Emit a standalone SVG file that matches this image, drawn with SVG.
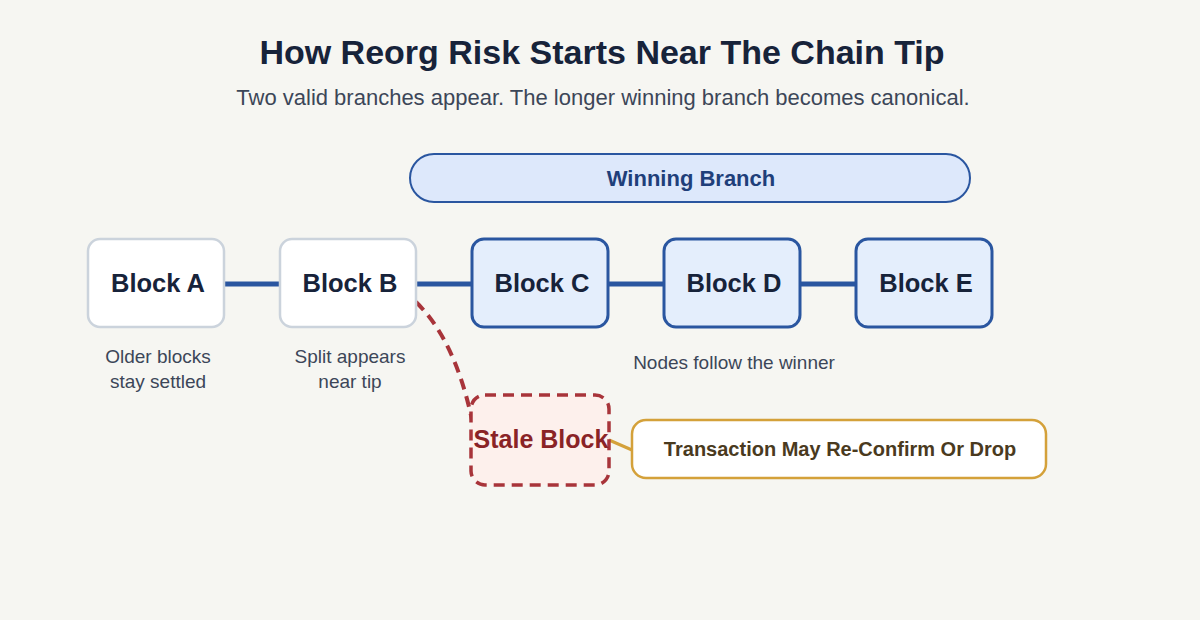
<svg xmlns="http://www.w3.org/2000/svg" width="1200" height="620" viewBox="0 0 1200 620">
<style>
text{font-family:"Liberation Sans",Arial,sans-serif}
.blk{font-size:25.5px;font-weight:bold;fill:#17233a;text-anchor:middle}
.old{fill:#fff;stroke:#cbd3dc;stroke-width:2.5}
.win{fill:#e4eefc;stroke:#2a56a0;stroke-width:3}
.cap{font-size:19px;fill:#3c4658;text-anchor:middle}
.link{stroke:#2a56a0;stroke-width:5}
</style>
<rect width="1200" height="620" fill="#f6f6f2"/>
<text x="602" y="64" text-anchor="middle" font-size="34" font-weight="bold" fill="#17233a">How Reorg Risk Starts Near The Chain Tip</text>
<text x="603" y="105" text-anchor="middle" font-size="22" fill="#3c4658">Two valid branches appear. The longer winning branch becomes canonical.</text>
<g id="banner"><rect x="410" y="154" width="560" height="48" rx="24" fill="#dde8fb" stroke="#2a56a0" stroke-width="2"/>
<text x="691" y="186" text-anchor="middle" font-size="22" font-weight="bold" fill="#1f3f7a">Winning Branch</text></g>
<g id="connectors">
<line class="link" x1="224" y1="284" x2="280" y2="284"/>
<line class="link" x1="416" y1="284" x2="472" y2="284"/>
<line class="link" x1="608" y1="284" x2="664" y2="284"/>
<line class="link" x1="800" y1="284" x2="856" y2="284"/>
<path d="M416 302 Q455 340 472 420" fill="none" stroke="#a8343a" stroke-width="4" stroke-dasharray="11 7"/>
<line x1="609" y1="440" x2="632" y2="450" stroke="#d4a13a" stroke-width="3"/>
</g>
<g id="blockA"><rect class="old" x="88" y="239" width="136" height="88" rx="12"/><text class="blk" x="158" y="292">Block A</text></g>
<g id="blockB"><rect class="old" x="280" y="239" width="136" height="88" rx="12"/><text class="blk" x="350" y="292">Block B</text></g>
<g id="blockC"><rect class="win" x="472" y="239" width="136" height="88" rx="12"/><text class="blk" x="542" y="292">Block C</text></g>
<g id="blockD"><rect class="win" x="664" y="239" width="136" height="88" rx="12"/><text class="blk" x="734" y="292">Block D</text></g>
<g id="blockE"><rect class="win" x="856" y="239" width="136" height="88" rx="12"/><text class="blk" x="926" y="292">Block E</text></g>
<g id="captions">
<text class="cap" x="158" y="363">Older blocks</text><text class="cap" x="158" y="388">stay settled</text>
<text class="cap" x="350" y="363">Split appears</text><text class="cap" x="350" y="388">near tip</text>
<text class="cap" x="734" y="369">Nodes follow the winner</text>
</g>
<g id="stale"><rect x="471" y="395" width="138" height="90" rx="14" fill="#fdf0ec" stroke="#a8343a" stroke-width="3.5" stroke-dasharray="11 7"/>
<text x="541" y="448" text-anchor="middle" font-size="25" font-weight="bold" fill="#8a2326">Stale Block</text></g>
<g id="callout"><rect x="632" y="420" width="414" height="58" rx="14" fill="#fff" stroke="#d4a13a" stroke-width="2.5"/>
<text x="840" y="456" text-anchor="middle" font-size="20" font-weight="bold" fill="#4a3a1e">Transaction May Re-Confirm Or Drop</text></g>
</svg>
